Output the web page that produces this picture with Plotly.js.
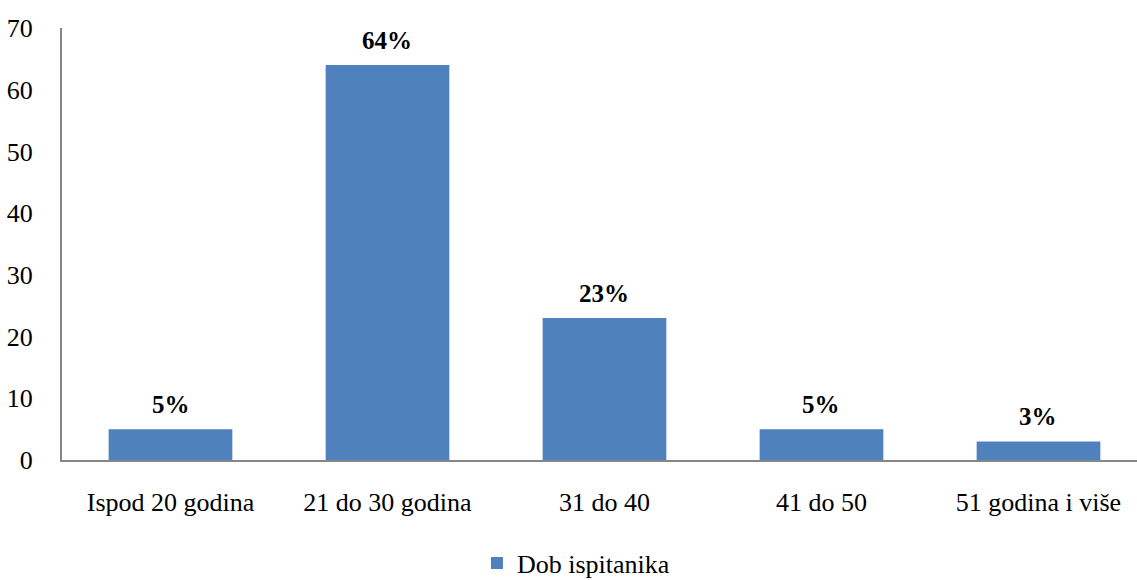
<!DOCTYPE html>
<html><head><meta charset="utf-8">
<script src="https://cdn.plot.ly/plotly-3.0.1.min.js"></script>
<style>html,body{margin:0;padding:0;background:#fff;overflow:hidden}#chart{width:1137px;height:592px}</style>
</head><body><div id="chart"></div>
<script>
const categories = ["Ispod 20 godina", "21 do 30 godina", "31 do 40", "41 do 50", "51 godina i više"];
const values = [5, 64, 23, 5, 3];
const labels = ["5%", "64%", "23%", "5%", "3%"];
const seriesName = "Dob ispitanika";
const yTicks = [0, 10, 20, 30, 40, 50, 60, 70];

const fontFam = "'Liberation Serif', serif";
const trace = {
  type: 'bar', x: categories, y: values, name: seriesName,
  marker: {color: '#4F81BD'}, width: 0.57, showlegend: true, hoverinfo: 'none'
};
const annotations = categories.map((c, i) => ({
  x: c, y: values[i], xref: 'x', yref: 'y', text: '<b>' + labels[i] + '</b>',
  showarrow: false, yanchor: 'bottom', yshift: 9,
  font: {family: fontFam, size: 25, color: '#000'}
}));
const layout = {
  width: 1137, height: 592,
  margin: {l: 62, r: 0, t: 28, b: 132},
  paper_bgcolor: '#fff', plot_bgcolor: '#fff',
  font: {family: fontFam, size: 26, color: '#000'},
  xaxis: {
    type: 'category', range: [-0.5, 4.454], showgrid: false, zeroline: false,
    showline: true, linecolor: '#868686', linewidth: 2, automargin: false,
    ticks: 'outside', ticklen: 18, tickcolor: 'rgba(0,0,0,0)',
    tickfont: {family: fontFam, size: 26, color: '#000'}
  },
  yaxis: {
    range: [0, 70], tickvals: yTicks, ticktext: yTicks.map(String), automargin: false,
    showgrid: false, zeroline: false, showline: true, linecolor: '#868686', linewidth: 2,
    ticks: 'outside', ticklen: 22, tickcolor: 'rgba(0,0,0,0)',
    tickfont: {family: fontFam, size: 26, color: '#000'}
  },
  showlegend: true,
  legend: {orientation: 'h', x: 0.386, xanchor: 'left', y: -0.293, yanchor: 'bottom',
    font: {family: fontFam, size: 26, color: '#000'}, itemwidth: 30},
  annotations: annotations
};
Plotly.newPlot('chart', [trace], layout, {displayModeBar: false, staticPlot: true});
</script></body></html>
